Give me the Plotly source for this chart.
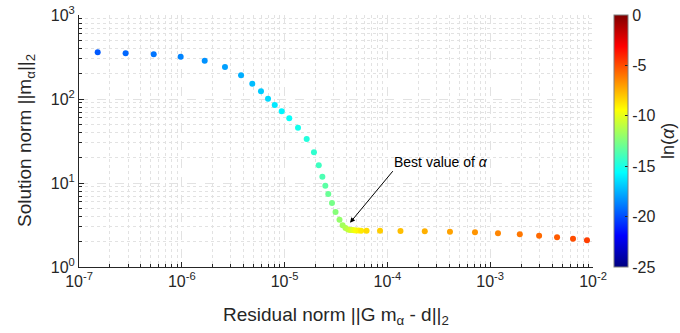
import plotly.graph_objects as go
import numpy as np

# Residual norm ||G m_alpha - d||_2
residual_norm = [1.52e-7, 2.84e-7, 5.33e-7, 9.75e-7, 1.67e-6, 2.63e-6, 3.77e-6, 4.85e-6,
                 5.89e-6, 6.90e-6, 8.02e-6, 9.37e-6, 1.11e-5, 1.35e-5, 1.64e-5, 1.93e-5,
                 2.15e-5, 2.33e-5, 2.49e-5, 2.66e-5, 2.89e-5, 3.13e-5, 3.42e-5, 3.67e-5,
                 3.91e-5, 4.14e-5, 4.33e-5, 4.53e-5, 4.73e-5, 4.95e-5, 5.24e-5, 5.55e-5,
                 6.27e-5, 8.48e-5, 1.34e-4, 2.31e-4, 4.06e-4, 7.11e-4, 1.19e-3, 1.94e-3,
                 2.99e-3, 4.47e-3, 6.39e-3, 8.74e-3]
# Solution norm ||m_alpha||_2
solution_norm = [360, 351, 341, 319, 285, 240, 192, 152,
                 124, 101, 84.9, 71.4, 58.9, 45.5, 33.4, 23.2,
                 16.3, 11.9, 9.27, 7.40, 5.78, 4.52, 3.65, 3.15,
                 2.91, 2.79, 2.75, 2.75, 2.74, 2.72, 2.72, 2.71,
                 2.71, 2.70, 2.68, 2.66, 2.63, 2.59, 2.52, 2.45,
                 2.36, 2.26, 2.17, 2.08]
# ln(alpha) colour values
ln_alpha = [-19.7, -19.35, -19.0, -18.65, -18.3, -17.95, -17.6, -17.25, -16.9, -16.55,
            -16.2, -15.85, -15.5, -15.15, -14.8, -14.45, -14.1, -13.75, -13.4, -13.05,
            -12.7, -12.35, -12.0, -11.65, -11.3, -10.95, -10.6, -10.25, -9.9, -9.55,
            -9.2, -8.85, -8.5, -8.15, -7.8, -7.45, -7.1, -6.75, -6.4, -6.05,
            -5.7, -5.35, -5.0, -4.65]

x_tick_vals = [1e-7, 1e-6, 1e-5, 1e-4, 1e-3, 1e-2]
x_tick_text = ['10<sup>-7</sup>', '10<sup>-6</sup>', '10<sup>-5</sup>',
               '10<sup>-4</sup>', '10<sup>-3</sup>', '10<sup>-2</sup>']
y_tick_vals = [1, 10, 100, 1000]
y_tick_text = ['10<sup>0</sup>', '10<sup>1</sup>', '10<sup>2</sup>', '10<sup>3</sup>']
cbar_tick_vals = [-25, -20, -15, -10, -5, 0]
cbar_tick_text = ['-25', '-20', '-15', '-10', '-5', '0']

x_minor_vals = [k * 10.0 ** e for e in range(-7, -2) for k in range(2, 10)]
y_minor_vals = [k * 10.0 ** e for e in range(0, 3) for k in range(2, 10)]

best_residual = 4.33e-5
best_solution = 3.37
label_residual = 1.11e-4
label_solution = 17.8

jet = [[0.0, 'rgb(0,0,128)'], [0.125, 'rgb(0,0,255)'], [0.375, 'rgb(0,255,255)'],
       [0.625, 'rgb(255,255,0)'], [0.875, 'rgb(255,0,0)'], [1.0, 'rgb(128,0,0)']]

font_family = "Liberation Sans, Arial, sans-serif"
dark = '#262626'
gridc = '#e2e2e2'

fig = go.Figure()
fig.add_trace(go.Scatter(
    x=residual_norm, y=solution_norm, mode='markers',
    marker=dict(size=6, color=ln_alpha, colorscale=jet, cmin=-25, cmax=0,
                showscale=True,
                colorbar=dict(
                    x=1.041, xanchor='left', xpad=0, ypad=0,
                    y=0.5, yanchor='middle', len=1, lenmode='fraction',
                    thickness=14, outlinecolor='#7f7f7f', outlinewidth=1,
                    tickvals=cbar_tick_vals, ticktext=cbar_tick_text,
                    ticks='inside', ticklen=3, tickcolor=dark,
                    tickfont=dict(size=16, color=dark, family=font_family),
                )),
    showlegend=False, hoverinfo='x+y'))

axis_common = dict(
    type='log', showline=True, linecolor=dark, linewidth=1,
    ticks='inside', ticklen=5, tickcolor=dark,
    showgrid=True, gridcolor=gridc, griddash='dash', gridwidth=1,
    tickfont=dict(size=16, color=dark, family=font_family),
    zeroline=False, mirror=False, automargin=False,
)

fig.update_xaxes(range=[-7, -2], tickmode='array', tickvals=x_tick_vals, ticktext=x_tick_text,
                 minor=dict(tickmode='array', tickvals=x_minor_vals, showgrid=True,
                            gridcolor=gridc, griddash='dot', ticks='inside', ticklen=3,
                            tickcolor=dark),
                 **axis_common)
fig.update_yaxes(range=[0, 3], tickmode='array', tickvals=y_tick_vals, ticktext=y_tick_text,
                 minor=dict(tickmode='array', tickvals=y_minor_vals, showgrid=True,
                            gridcolor=gridc, griddash='dot', ticks='inside', ticklen=3,
                            tickcolor=dark),
                 **axis_common)

# axis titles
fig.add_annotation(x=0.5, y=-0.139, xref='paper', yref='paper',
                   text='Residual norm ||G m<sub>α</sub> - d||<sub>2</sub>',
                   showarrow=False, xanchor='center', yanchor='top',
                   font=dict(size=19, color=dark, family=font_family))
fig.add_annotation(x=-0.1031, y=0.5, xref='paper', yref='paper',
                   text='Solution norm ||m<sub>α</sub>||<sub>2</sub>', textangle=-90,
                   showarrow=False, xanchor='center', yanchor='middle',
                   font=dict(size=19, color=dark, family=font_family))

fig.add_annotation(x=np.log10(best_residual), y=np.log10(best_solution), xref='x', yref='y',
                   text='', showarrow=True, ax=44, ay=-53, axref='pixel', ayref='pixel',
                   arrowhead=2, arrowsize=1, arrowwidth=1, arrowcolor='black')
fig.add_annotation(x=np.log10(label_residual), y=np.log10(label_solution), xref='x', yref='y',
                   text='Best value of <i>α</i>', showarrow=False, xanchor='left', yanchor='middle',
                   font=dict(size=14, color='black', family=font_family))
fig.add_annotation(x=1.146, y=0.5, xref='paper', yref='paper', text='ln(<i>α</i>)',
                   textangle=-90, showarrow=False, xanchor='center', yanchor='middle',
                   font=dict(size=18, color=dark, family=font_family))

fig.update_layout(width=680, height=333,
                  margin=dict(l=79, r=87, t=15, b=66, autoexpand=False),
                  plot_bgcolor='white', paper_bgcolor='white',
                  font=dict(family=font_family, color=dark))

fig.write_html("out.html", config={'displayModeBar': False},
               post_script="document.body.style.margin='0px';")
